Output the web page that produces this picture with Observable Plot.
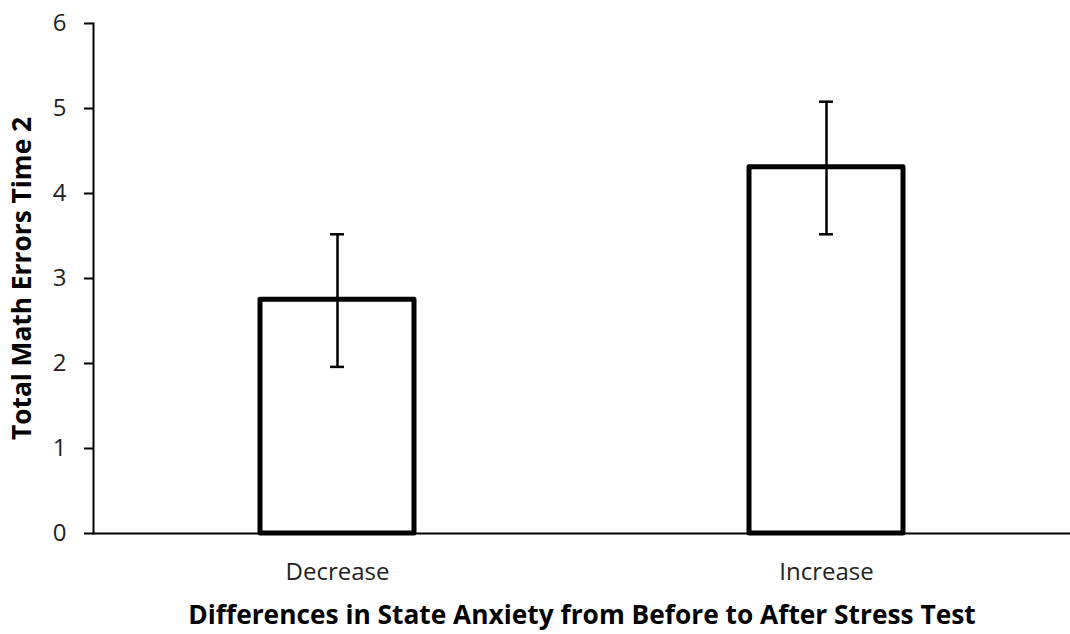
<!DOCTYPE html>
<html>
<head>
<meta charset="utf-8">
<script src="https://cdn.jsdelivr.net/npm/d3@7"></script>
<script src="https://cdn.jsdelivr.net/npm/@observablehq/plot@0.6"></script>
<style>
  html, body { margin: 0; padding: 0; background: #fff; }
  #chart { width: 1070px; height: 634px; }
  svg { font-family: "Open Sans", sans-serif; }
</style>
</head>
<body>
<div id="chart"></div>
<script>
const categories = ["Decrease", "Increase"];
const means = [2.75, 4.31];
const errLow = [1.96, 3.52];
const errHigh = [3.52, 5.08];
const yTicks = [0, 1, 2, 3, 4, 5, 6];
const xTitle = "Differences in State Anxiety from Before to After Stress Test";
const yTitle = "Total Math Errors Time 2";

const data = categories.map((c, i) => ({cat: c, mean: means[i], lo: errLow[i], hi: errHigh[i]}));

const capInset = 70;

const chart = Plot.plot({
  width: 1070,
  height: 634,
  marginLeft: 93,
  marginRight: 0,
  marginTop: 23,
  marginBottom: 101,
  style: {fontFamily: "'Open Sans', sans-serif", color: "#000", background: "#fff", overflow: "visible"},
  x: {domain: categories, paddingInner: 0.686, paddingOuter: 0.34, label: null},
  y: {domain: [0, 6], label: null},
  marks: [
    Plot.barY(data, {x: "cat", y: "mean", fill: "#fff", stroke: "#000", strokeWidth: 5, strokeLinejoin: "round"}),
    Plot.ruleX(data, {x: "cat", y1: "lo", y2: "hi", stroke: "#000", strokeWidth: 2.5}),
    Plot.tickY(data, {x: "cat", y: "lo", stroke: "#000", strokeWidth: 2.5, insetLeft: capInset, insetRight: capInset}),
    Plot.tickY(data, {x: "cat", y: "hi", stroke: "#000", strokeWidth: 2.5, insetLeft: capInset, insetRight: capInset}),
    Plot.ruleY([0], {stroke: "#000", strokeWidth: 2}),
    Plot.frame({anchor: "left", stroke: "#000", strokeWidth: 2}),
    Plot.axisY({ticks: yTicks, tickSize: 9, tickPadding: 18, fontSize: 24, strokeWidth: 2, tickFormat: d => String(d), label: null, fill: "#222"}),
    Plot.axisX({tickSize: 0, tickPadding: 29, fontSize: 24, label: null, fill: "#222"}),
    Plot.text([xTitle], {frameAnchor: "bottom", dy: 90, fontSize: 26.3, fontWeight: "bold", fill: "#000"}),
    Plot.text([yTitle], {frameAnchor: "left", dx: -71, rotate: -90, textAnchor: "middle", fontSize: 26.3, fontWeight: "bold", fill: "#000"})
  ]
});
document.getElementById("chart").appendChild(chart);
</script>
</body>
</html>
